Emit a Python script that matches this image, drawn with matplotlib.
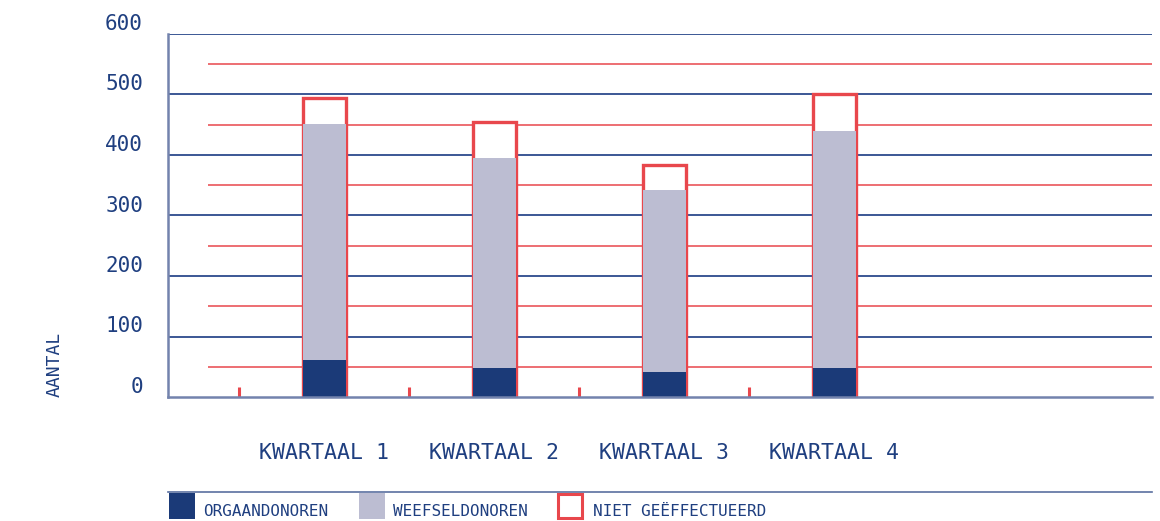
import matplotlib.pyplot as plt
from matplotlib.patches import Rectangle
from matplotlib.lines import Line2D
import numpy as np

# data
kwartalen = ['KWARTAAL 1', 'KWARTAAL 2', 'KWARTAAL 3', 'KWARTAAL 4']
organ = [61, 48, 41, 48]
weefsel = [390, 347, 301, 392]
niet = [43, 60, 41, 61]
yticks = [0, 100, 200, 300, 400, 500, 600]
legend_labels = ['ORGAANDONOREN', 'WEEFSELDONOREN', 'NIET GEËFFECTUEERD']

blue = '#1b3a78'
lav = '#bcbdd2'
red = '#e8474c'
txt = '#1f3f80'
font = 'DejaVu Sans Mono'

W, H = 1160, 521
fig = plt.figure(figsize=(W/100, H/100), dpi=100)
ax = fig.add_axes([168/W, 1-397/H, (1152-168)/W, (397-34)/H])

x = np.arange(len(kwartalen))
bw = 0.253
ax.set_xlim(-0.918, 4.87)
ax.set_ylim(0, 600)

# red minor lines
for v in range(50, 600, 100):
    ax.plot([-0.68, 4.87], [v, v], color=red, lw=1.1, zorder=1, solid_capstyle='butt')
# blue major lines
for v in range(100, 700, 100):
    ax.plot([-0.918, 4.87], [v, v], color='#2c4a8c', lw=1.3, zorder=1)

o = np.array(organ); w = np.array(weefsel); n = np.array(niet)
# full-height outlined bar (the "niet geëffectueerd" part shows at the top)
ax.bar(x, o+w+n, bw, facecolor='white', edgecolor=red, lw=2.4, zorder=3)
ax.bar(x, o, bw, color=blue, zorder=4)
ax.bar(x, w, bw, bottom=o, color=lav, zorder=4)

# red boundary ticks
for b in x - 0.5:
    ax.plot([b, b], [0, 16], color=red, lw=2.2, zorder=2, solid_capstyle='butt')

for s in ['right', 'top']:
    ax.spines[s].set_visible(False)
for s in ['left', 'bottom']:
    ax.spines[s].set_color('#7383ad')
    ax.spines[s].set_linewidth(1.8)
    ax.spines[s].set_zorder(5)

ax.set_yticks(yticks)
ax.set_yticklabels([str(t) for t in yticks], family=font, fontsize=15, color=txt, va='bottom')
ax.tick_params(axis='y', length=0, pad=18)
ax.set_xticks(x)
ax.set_xticklabels(kwartalen, family=font, fontsize=15.5, color=txt)
ax.tick_params(axis='x', length=0, pad=33)

fig.text(55/W, 1-397/H, 'AANTAL', rotation=90, ha='center', va='bottom',
         family=font, fontsize=13, color=txt)

# legend
fig.add_artist(Line2D([168/W, 1152/W], [1-492/H, 1-492/H], color='#5a6fa0', lw=1.2))
sw = [(169, blue, None), (359, lav, None), (557, 'white', red)]
tx = [203, 393, 593]
for (sx, fc, ec), t, lab in zip(sw, tx, legend_labels):
    if ec is None:
        fig.add_artist(Rectangle((sx/W, 1-519/H), 26/W, 26/H, facecolor=fc, edgecolor='none'))
    else:
        fig.add_artist(Rectangle(((sx+1)/W, 1-518/H), 24/W, 24/H, facecolor=fc, edgecolor=ec, lw=2.2))
    fig.text(t/W, 1-511/H, lab, ha='left', va='center', family=font, fontsize=11.5, color=txt)

fig.savefig('out.png', dpi=100)
